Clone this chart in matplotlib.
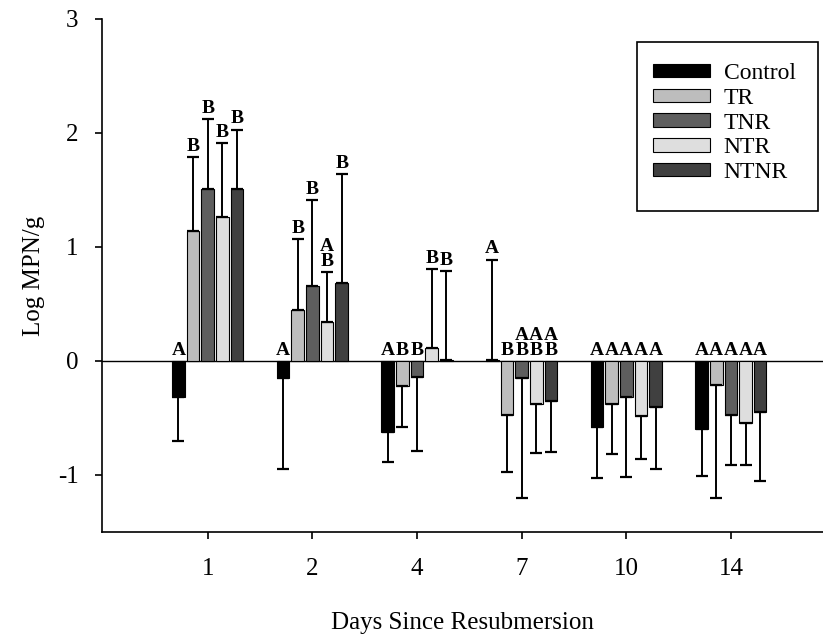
import matplotlib
matplotlib.use('Agg')
import matplotlib.pyplot as plt
from matplotlib.patches import Rectangle
import numpy as np

plt.rcParams['font.family'] = ['Liberation Serif', 'DejaVu Serif']
plt.rcParams['axes.unicode_minus'] = False

days = ['1', '2', '4', '7', '10', '14']
groups = ['Control', 'TR', 'TNR', 'NTR', 'NTNR']
colors = ['#000000', '#bdbdbd', '#5e5e5e', '#dedede', '#404040']

control = [-0.32, -0.15, -0.62, 0.01, -0.58, -0.60]
control_err = [0.38, 0.80, 0.27, 0.88, 0.45, 0.41]
tr = [1.14, 0.45, -0.22, -0.47, -0.38, -0.21]
tr_err = [0.65, 0.62, 0.36, 0.50, 0.44, 0.99]
tnr = [1.51, 0.66, -0.14, -0.15, -0.32, -0.47]
tnr_err = [0.61, 0.75, 0.65, 1.05, 0.70, 0.44]
ntr = [1.26, 0.34, 0.11, -0.38, -0.48, -0.54]
ntr_err = [0.65, 0.44, 0.70, 0.43, 0.38, 0.37]
ntnr = [1.51, 0.68, 0.005, -0.35, -0.40, -0.45]
ntnr_err = [0.52, 0.96, 0.78, 0.45, 0.55, 0.60]

# significance letters (per group, per day)
letters = [
    ['A', 'A', 'A', 'A', 'A', 'A'],
    ['B', 'B', 'B', 'B', 'A', 'A'],
    ['B', 'B', 'B', 'A\nB', 'A', 'A'],
    ['B', 'A\nB', 'B', 'A\nB', 'A', 'A'],
    ['B', 'B', 'B', 'A\nB', 'A', 'A'],
]

means = [control, tr, tnr, ntr, ntnr]
errs = [control_err, tr_err, tnr_err, ntr_err, ntnr_err]

fig = plt.figure(figsize=(8.23, 6.39), dpi=100)
ax = fig.add_axes([0.124, 0.1675, 0.876, 0.8028])

x = np.arange(len(days))
step = 0.14
width = 0.12

for i, (m, e) in enumerate(zip(means, errs)):
    m = np.array(m)
    e = np.array(e)
    pos = x + (i - 2) * step
    ax.bar(pos, m, width, color=colors[i], edgecolor='black', linewidth=0.8,
           label=groups[i], zorder=2)
    lower = np.where(m < 0, e, 0)
    upper = np.where(m >= 0, e, 0)
    ax.errorbar(pos, m, yerr=[lower, upper], fmt='none', ecolor='black',
                elinewidth=1.4, capsize=4.5, capthick=1.6, zorder=3)
    for j in range(len(days)):
        if m[j] >= 0:
            ytxt = m[j] + e[j]
        else:
            ytxt = 0
        ax.annotate(letters[i][j], (pos[j], ytxt), xytext=(0, 1.5),
                    textcoords='offset points', ha='center', va='bottom',
                    fontsize=14, fontweight='bold', linespacing=0.85)

ax.axhline(0, color='black', linewidth=1.0, zorder=1)

ax.set_xlim(-1.01, 5.88)
ax.set_ylim(-1.5, 3)
ax.set_yticks([-1, 0, 1, 2, 3])
ax.set_xticks(x)
ax.set_xticklabels(days)
ax.tick_params(axis='both', labelsize=18, direction='out', length=5, width=1.2)
ax.tick_params(axis='y', pad=12)
ax.tick_params(axis='x', pad=14)
ax.spines['top'].set_visible(False)
ax.spines['right'].set_visible(False)
ax.spines['left'].set_linewidth(1.2)
ax.spines['bottom'].set_linewidth(1.2)

ax.set_xlabel('Days Since Resubmersion', fontsize=18, labelpad=23)
ax.set_ylabel('Log MPN/g', fontsize=18, labelpad=9)

leg = ax.legend(loc='upper left', bbox_to_anchor=(0.7543, 0.928), frameon=False,
                fontsize=17, handlelength=2.4, handleheight=0.5,
                handletextpad=0.6, labelspacing=0.16, borderaxespad=0,
                borderpad=0.3)
for h in leg.legend_handles:
    h.set_linewidth(0.8)
ax.add_patch(Rectangle((0.7420, 0.6257), 0.2510, 0.3294, transform=ax.transAxes,
                       fill=False, edgecolor='black', linewidth=1.2,
                       clip_on=False, zorder=5))

fig.savefig('out.png', dpi=100)
